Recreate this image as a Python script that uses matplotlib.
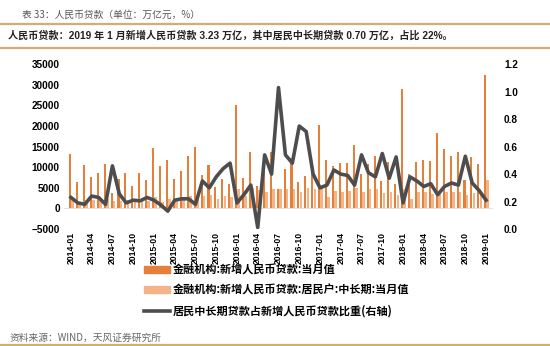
import numpy as np
import matplotlib.pyplot as plt
from matplotlib.patches import Patch
from matplotlib.lines import Line2D

plt.rcParams['font.family'] = ['Liberation Sans', 'Noto Sans CJK SC', 'DejaVu Sans']

# 月份 2014-01 ~ 2019-01
meses = [f'{y}-{m:02d}' for y in range(2014, 2020) for m in range(1, 13)][:61]

# 新增人民币贷款 当月值 (亿元)
total = [13200, 6445, 10500, 7747, 8708, 10800, 3852, 7025, 8572, 5483, 8527, 6974,
         14700, 10200, 11800, 7079, 9008, 12800, 14800, 8096, 10500, 5136, 7089, 5978,
         25100, 7266, 13700, 5556, 9855, 13800, 4636, 9487, 12200, 6513, 7946, 10400,
         20300, 11700, 10200, 11000, 11100, 15400, 8255, 10900, 12700, 6632, 11200, 5844,
         29000, 8393, 11200, 11800, 11500, 18400, 14500, 12800, 13800, 6970, 12500, 10800,
         32300]

# 居民户中长期 当月值 (亿元)
hogar = [2400, 1500, 2100, 2000, 2100, 2200, 1700, 1900, 2000, 1500, 1800, 1700,
         2800, 1500, 2300, 1900, 2300, 3000, 3000, 3100, 3200, 2200, 3000, 2800,
         4700, 2900, 4900, 4500, 4000, 4600, 4800, 4800, 4800, 3900, 5000, 4700,
         4800, 2700, 4300, 4100, 4300, 4900, 4100, 4700, 4600, 3800, 4000, 3300,
         4600, 2400, 3900, 3900, 3600, 4100, 4000, 4100, 4100, 3200, 3700, 3300,
         7000]

# 比重 (右轴)
ratio = [0.23, 0.19, 0.18, 0.24, 0.23, 0.18, 0.46, 0.255, 0.19, 0.21, 0.205, 0.23,
         0.21, 0.175, 0.13, 0.21, 0.22, 0.22, 0.18, 0.35, 0.30, 0.38, 0.44, 0.48,
         0.19, 0.25, 0.32, 0.01, 0.54, 0.40, 1.03, 0.54, 0.48, 0.75, 0.71, 0.40,
         0.30, 0.32, 0.43, 0.40, 0.39, 0.32, 0.54, 0.41, 0.38, 0.55, 0.37, 0.525,
         0.19, 0.38, 0.35, 0.31, 0.33, 0.25, 0.31, 0.335, 0.32, 0.53, 0.335, 0.28,
         0.21]

etiquetas = ['金融机构:新增人民币贷款:当月值',
             '金融机构:新增人民币贷款:居民户:中长期:当月值',
             '居民中长期贷款占新增人民币贷款比重(右轴)']

c_oscuro = '#E5803A'
c_claro = '#F3B48A'
c_linea = '#4D4D4F'
c_regla = '#D2AE72'
gris = '#555555'

fig = plt.figure(figsize=(5.5, 3.46), dpi=100)

# encabezado
fig.text(22/550, 1-15/346, '表 33：人民币贷款（单位：万亿元，%）', fontsize=7,
         color=gris, va='center', family=['Noto Sans CJK SC', 'DejaVu Sans'])
fig.add_artist(Line2D([0, 1], [1-24/346, 1-24/346], color=c_regla, lw=1.6))
fig.text(8/550, 1-36/346,
         '人民币贷款：2019 年 1 月新增人民币贷款 3.23 万亿，其中居民中长期贷款 0.70 万亿，占比 22%。',
         fontsize=7.25, weight='bold', color='#222222', va='center')
fig.add_artist(Line2D([0, 1], [1-48/346, 1-48/346], color=c_regla, lw=1.6))

ax = fig.add_axes([64/550, 1-229/346, (493-64)/550, (229-64.3)/346])
x = np.arange(len(meses))
ax.bar(x - 0.12, total, width=0.3, color=c_oscuro, zorder=2)
ax.bar(x + 0.25, hogar, width=0.38, color=c_claro, zorder=2)
ax.axhline(0, color='#DDDDDD', lw=0.6, zorder=1)
ax.set_xlim(-1, len(meses))
ax.set_ylim(-5000, 35000)
ax.set_yticks(range(-5000, 35001, 5000))
ax.set_xticks(x[::3])
ax.set_xticklabels(meses[::3], rotation=90, fontsize=6.2, weight='bold')
for t in ax.get_yticklabels():
    t.set_fontsize(7.2)
    t.set_fontweight('bold')
ax.tick_params(axis='y', length=0, pad=3)
ax.tick_params(axis='x', length=0, pad=2)
for s in ax.spines.values():
    s.set_visible(False)

ax2 = ax.twinx()
ax2.plot(x, ratio, color=c_linea, lw=2.6, zorder=3)
ax2.set_ylim(0, 1.2)
ax2.set_yticks(np.arange(0, 1.21, 0.2))
ax2.set_yticklabels([f'{v:.1f}' for v in np.arange(0, 1.21, 0.2)], fontsize=7.2, weight='bold')
ax2.tick_params(length=0, pad=8)
for s in ax2.spines.values():
    s.set_visible(False)

manejadores = [Patch(color=c_oscuro), Patch(color=c_claro), Line2D([], [], color=c_linea, lw=2.6)]
fig.legend(manejadores, etiquetas, loc='upper left', bbox_to_anchor=(134/550, 1-253/346),
           frameon=False, handlelength=2.3, handleheight=0.6,
           labelspacing=0.7, handletextpad=0.3,
           prop={'family': ['Noto Sans CJK SC', 'DejaVu Sans'], 'size': 8, 'weight': 'bold'})

fig.text(10/550, 1-338/346, '资料来源：WIND，天风证券研究所', fontsize=7, color='#666666',
         va='center', family=['Noto Sans CJK SC', 'DejaVu Sans'])
fig.add_artist(Line2D([0, 1], [1.5/346, 1.5/346], color=c_regla, lw=1.6))

plt.savefig('out.png', dpi=100)
